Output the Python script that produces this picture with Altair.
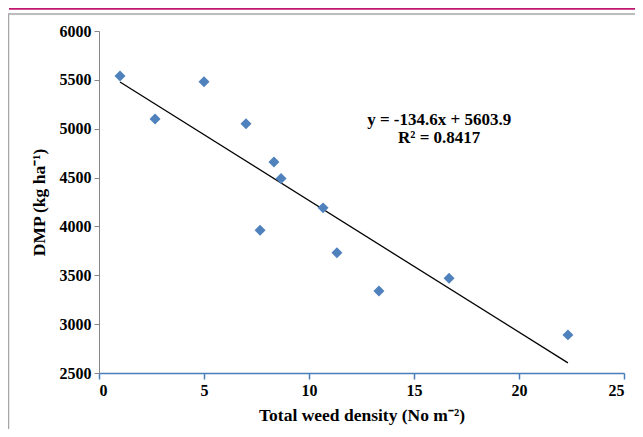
import altair as alt
import pandas as pd

# Data
weed_density = [1.0, 2.67, 5.0, 7.0, 8.33, 8.67, 7.67, 10.67, 11.33, 13.33, 16.67, 22.33]
dmp = [5540, 5100, 5480, 5050, 4660, 4490, 3960, 4190, 3730, 3340, 3470, 2890]

x_ticks = [0, 5, 10, 15, 20, 25]
y_ticks = [2500, 3000, 3500, 4000, 4500, 5000, 5500, 6000]

eq_text = ["y = -134.6x + 5603.9", "R² = 0.8417"]
eq_x = [16.2, 16.2]
eq_y = [5089, 4905]

FONT = "Liberation Serif"
BLUE = "#4F81BD"

df = pd.DataFrame({"x": weed_density, "y": dmp})
ann = pd.DataFrame({"x": eq_x, "y": eq_y, "t": eq_text})
one = pd.DataFrame({"k": [0]})

xs = alt.Scale(domain=[0, 25], nice=False)
ys = alt.Scale(domain=[2500, 6000], nice=False, zero=False)

x_axis = alt.Axis(
    values=x_ticks, format="d", title="Total weed density (No m⁻²)", grid=False,
    domainColor="#4A7EBB", domainWidth=1.5, tickColor="#4A7EBB", tickWidth=1.5, tickSize=6,
    labelFont=FONT, labelFontWeight="bold", labelFontSize=16, labelColor="black", labelPadding=3,
    titleFont=FONT, titleFontWeight="bold", titleFontSize=17.5, titleColor="black", titlePadding=8,
)
y_axis = alt.Axis(
    values=y_ticks, format="d", title="DMP (kg ha⁻¹)", grid=False,
    domainColor="#868686", domainWidth=1, tickColor="#868686", tickWidth=1, tickSize=5,
    labelFont=FONT, labelFontWeight="bold", labelFontSize=16, labelColor="black", labelPadding=3,
    titleFont=FONT, titleFontWeight="bold", titleFontSize=17.5, titleColor="black", titlePadding=11,
)

pts = alt.Chart(df).mark_point(
    shape="diamond", filled=True, size=120, color=BLUE, opacity=1
).encode(
    x=alt.X("x:Q", scale=xs, axis=x_axis),
    y=alt.Y("y:Q", scale=ys, axis=y_axis),
)

trend = alt.Chart(df).transform_regression("x", "y").mark_line(
    color="black", strokeWidth=1.3
).encode(x=alt.X("x:Q", scale=xs), y=alt.Y("y:Q", scale=ys))

text = alt.Chart(ann).mark_text(
    font=FONT, fontWeight="bold", fontSize=17, color="black"
).encode(x=alt.X("x:Q", scale=xs), y=alt.Y("y:Q", scale=ys), text="t:N")

# page decorations (frame lines)
magenta = alt.Chart(one).mark_rule(color="#C0186E", strokeWidth=2).encode(
    x=alt.value(-90), x2=alt.value(560), y=alt.value(-22.3))
gray_top = alt.Chart(one).mark_rule(color="#A6A6A6", strokeWidth=1.5).encode(
    x=alt.value(-91), x2=alt.value(560), y=alt.value(-17))
gray_left = alt.Chart(one).mark_rule(color="#A6A6A6", strokeWidth=1.5).encode(
    x=alt.value(-90.5), y=alt.value(-17), y2=alt.value(420))

chart = alt.layer(magenta, gray_top, gray_left, trend, pts, text).properties(
    width=525, height=342,
    padding={"left": 91, "top": 23, "right": 11, "bottom": 56},
    autosize=alt.AutoSizeParams(type="none"),
    background="white",
).configure_view(stroke=None)

chart.save("out.html", embed_options={"renderer": "svg", "actions": False})
